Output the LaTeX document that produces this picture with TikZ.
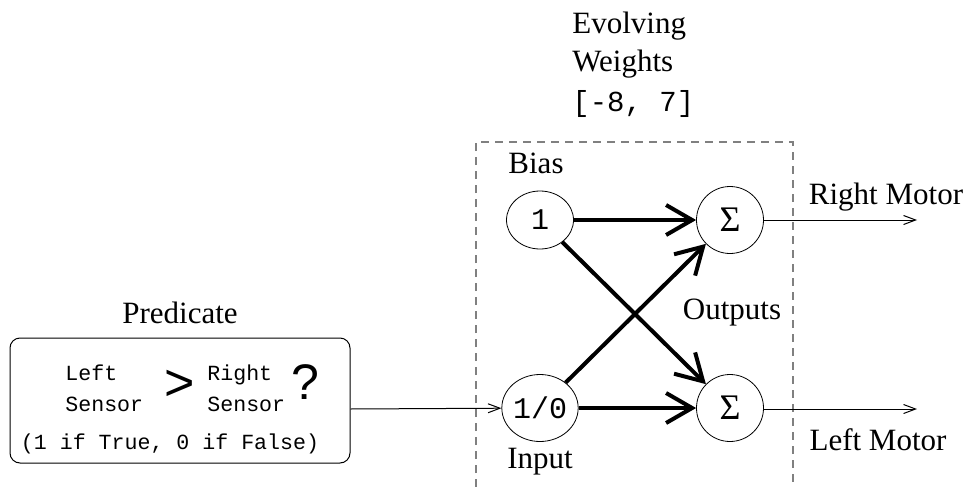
\documentclass[tikz,border=0pt]{standalone}
\usepackage{fontspec}
\setmainfont{Liberation Serif}
\setmonofont{Liberation Mono}
\setsansfont{Liberation Sans}
\usetikzlibrary{positioning, arrows.meta, shapes.geometric}

\begin{document}
\begin{tikzpicture}[x=0.5pt, y=-0.5pt,
        neuron/.style={draw, ellipse, inner sep=0pt, minimum width=33.5pt, minimum height=33.5pt},
        weight/.style={line width=2pt, -{Straight Barb[length=13pt, width=15pt, line width=2pt]}},
        signal/.style={line width=0.5pt, -{Straight Barb[length=6pt, width=4.5pt]}},
        lbl/.style={font=\fontsize{15.5}{18}\selectfont, inner sep=0pt}]
    \useasboundingbox (0,0) rectangle (969,487);
    % network box
    \draw[gray, line width=0.6pt, dash pattern=on 4pt off 3pt] (476,487) -- (476,142) -- (793,142) -- (793,487);
    % units
    \node[neuron, minimum height=29pt, font=\ttfamily\fontsize{15}{18}\selectfont] (bias) at (540,220) {1};
    \node[neuron, font=\ttfamily\fontsize{15}{18}\selectfont] (inp) at (540,408) {1/0};
    \node[neuron, font=\fontsize{18}{18}\selectfont] (right) at (730,220) {Σ};
    \node[neuron, font=\fontsize{18}{18}\selectfont] (left) at (730,408) {Σ};
    \foreach \from/\to in {bias/right, bias/left, inp/right, inp/left}{%
        \draw[weight] (\from) -- (\to);
    }
    \node[lbl] (biaslbl) at (536,163) {Bias};
    \node[lbl] (inplbl) at (540,462) {Input};
    \node[lbl] (outlbl) at (732,313) {Outputs};
    \node[lbl, align=left, anchor=north west] (evolve) at (572,12)
        {Evolving\\[1pt]Weights\\[2pt]{\ttfamily\fontsize{14.5}{18}\selectfont [-8, 7]}};
    % motors
    \coordinate (rm) at (917,220);
    \coordinate (lm) at (917,409);
    \draw[signal] (right) -- (rm);
    \draw[signal] (left.east |- lm) -- (lm);
    \node[lbl] (rmlbl) at (886,197) {Right Motor};
    \node[lbl] (lmlbl) at (878,440) {Left Motor};
    % predicate
    \node[draw, rounded corners=5pt, line width=0.5pt, minimum width=170pt, minimum height=62.5pt] (pred) at (180,400.5) {};
    \node[lbl] (predlbl) at (180,313) {Predicate};
    \node[font=\ttfamily\fontsize{10.8}{15.5}\selectfont, align=left, anchor=west, inner sep=0pt] (lsens) at (65,388) {Left\\Sensor};
    \node[font=\ttfamily\fontsize{10.8}{15.5}\selectfont, align=left, anchor=west, inner sep=0pt] (rsens) at (207,388) {Right\\Sensor};
    \node[font=\sffamily\fontsize{26}{26}\selectfont, inner sep=0pt] (gt) at (180,385) {>};
    \node[font=\sffamily\fontsize{25}{25}\selectfont, inner sep=0pt] (qm) at (305,382) {?};
    \node[font=\ttfamily\fontsize{10.8}{15.5}\selectfont, inner sep=0pt] (truth) at (170,444) {(1 if True, 0 if False)};
    \draw[signal] (pred.east |- lm) -- (inp);
\end{tikzpicture}
\end{document}
